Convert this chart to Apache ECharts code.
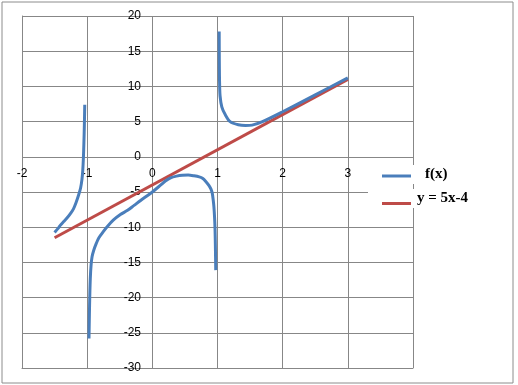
<!DOCTYPE html>
<html>
<head>
<meta charset="utf-8">
<script src="https://cdn.jsdelivr.net/npm/echarts@6/dist/echarts.min.js"></script>
<style>
html,body{margin:0;padding:0;background:#fff;}
#chart{width:518px;height:385px;}
</style>
</head>
<body>
<div id="chart"></div>
<script>
// Axis ranges / ticks
const xTicks = [-2, -1, 0, 1, 2, 3, 4];
const yTicks = [-30, -25, -20, -15, -10, -5, 0, 5, 10, 15, 20];

// f(x) branch left of x = -1
const b1x = [-1.5, -1.45, -1.41, -1.36, -1.31, -1.26, -1.21, -1.17, -1.13, -1.1, -1.08, -1.068, -1.058, -1.05, -1.043, -1.037];
const b1y = [-10.75, -10.2, -9.7, -9.2, -8.7, -8.1, -7.4, -6.5, -5.4, -4.4, -3.2, -2.0, -0.2, 2.0, 4.5, 7.4];

// f(x) branch between -1 and 1
const b2x = [-0.972, -0.966, -0.96, -0.952, -0.94, -0.925, -0.9, -0.86, -0.82, -0.75, -0.69, -0.6, -0.49, -0.38, -0.28, -0.18, -0.09, 0, 0.13, 0.2, 0.28, 0.37, 0.46, 0.55, 0.64, 0.72, 0.77, 0.82, 0.87, 0.9, 0.92, 0.935, 0.945, 0.955, 0.962, 0.968, 0.973];
const b2y = [-25.8, -22.5, -19.8, -17.3, -15.4, -14.2, -13.3, -12.3, -11.5, -10.6, -9.9, -9.0, -8.2, -7.6, -6.9, -6.2, -5.6, -5.0, -4.0, -3.45, -3.0, -2.75, -2.62, -2.6, -2.7, -2.85, -3.05, -3.5, -4.1, -4.6, -5.2, -6.2, -7.1, -8.6, -10.2, -12.9, -16.1];

// f(x) branch right of x = 1
const b3x = [1.026, 1.027, 1.029, 1.032, 1.04, 1.066, 1.118, 1.194, 1.32, 1.43, 1.53, 1.69, 2.0, 2.5, 3.0];
const b3y = [17.8, 15.0, 12.5, 10.5, 8.6, 7.1, 6.0, 5.0, 4.55, 4.45, 4.5, 5.0, 6.4, 8.8, 11.2];

// y = 5x - 4 line
const lx = [-1.5, 3];
const ly = [-11.5, 11];

const fName = 'f(x)';
const lName = 'y = 5x-4';
const blue = '#4a7ebb';
const red = '#be4b48';
const gridColor = '#878787';

function pairs(xs, ys) { return xs.map((x, i) => [x, ys[i]]); }

const chart = echarts.init(document.getElementById('chart'), null, {renderer: 'canvas'});

const fLine = {type: 'line', name: fName, showSymbol: false, symbol: 'none', smooth: 0.3,
  lineStyle: {color: blue, width: 3}, itemStyle: {color: blue}, z: 3};

const legendFont = {fontFamily: 'Liberation Serif', fontWeight: 'bold', fontSize: 15, color: '#000'};

chart.setOption({
  animation: false,
  backgroundColor: '#fff',
  graphic: [{type: 'rect', shape: {x: 2, y: 2, width: 511, height: 381}, style: {fill: 'none', stroke: '#8c8c8c', lineWidth: 1}, silent: true}],
  grid: {left: 22, top: 16, right: 105, bottom: 17, containLabel: false, show: false},
  legend: [
    {data: [fName], orient: 'vertical', left: 368, top: 165, itemWidth: 29, itemHeight: 3, icon: 'rect',
     backgroundColor: '#fff', padding: [2, 20, 2, 14],
     formatter: '{t|{name}}',
     textStyle: {rich: {t: Object.assign({padding: [0, 0, 3, 9]}, legendFont)}}},
    {data: [lName], orient: 'vertical', left: 368, top: 189, itemWidth: 29, itemHeight: 3, icon: 'rect',
     backgroundColor: '#fff', padding: [2, 20, 2, 14],
     formatter: '{t|{name}}',
     textStyle: {rich: {t: Object.assign({padding: [0, 0, 10, 1]}, legendFont)}}}
  ],
  xAxis: {type: 'value', min: xTicks[0], max: xTicks[xTicks.length - 1], interval: 1,
    axisLine: {show: true, onZero: false, lineStyle: {color: gridColor, width: 1}},
    axisTick: {show: false},
    axisLabel: {inside: true, margin: 194, verticalAlign: 'middle', fontFamily: 'Liberation Sans', fontSize: 12, color: '#000', showMinLabel: true, showMaxLabel: true, hideOverlap: false},
    splitLine: {show: true, lineStyle: {color: gridColor, width: 1}}},
  yAxis: {type: 'value', min: yTicks[0], max: yTicks[yTicks.length - 1], interval: 5,
    axisLine: {show: true, onZero: false, lineStyle: {color: gridColor, width: 1}},
    axisTick: {show: false},
    axisLabel: {inside: true, margin: 119, align: 'right', fontFamily: 'Liberation Sans', fontSize: 12, color: '#000', showMinLabel: true, showMaxLabel: true, hideOverlap: false},
    splitLine: {show: true, lineStyle: {color: gridColor, width: 1}}},
  series: [
    Object.assign({}, fLine, {data: pairs(b1x, b1y)}),
    Object.assign({}, fLine, {data: pairs(b2x, b2y)}),
    Object.assign({}, fLine, {data: pairs(b3x, b3y)}),
    {type: 'line', name: lName, showSymbol: false, symbol: 'none', data: pairs(lx, ly),
     lineStyle: {color: red, width: 3}, itemStyle: {color: red}, z: 2}
  ]
});
</script>
</body>
</html>
